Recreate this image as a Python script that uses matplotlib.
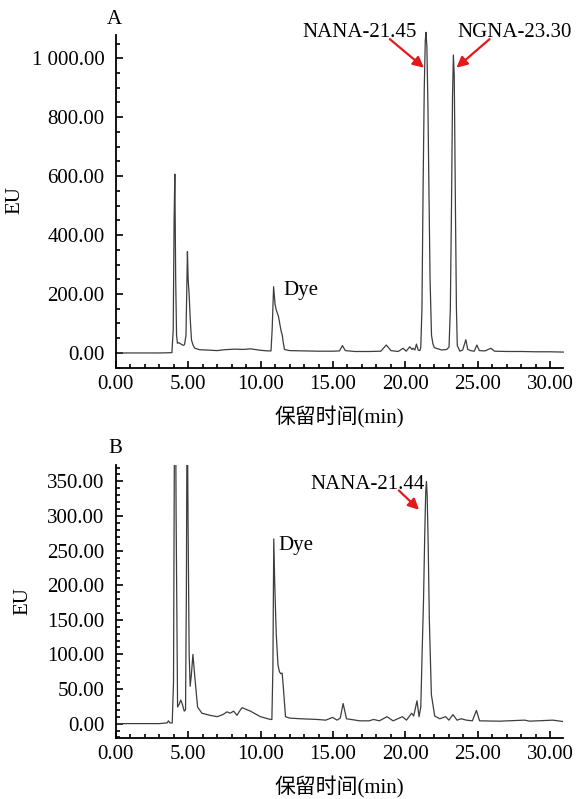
import matplotlib
matplotlib.use("Agg")
import matplotlib.pyplot as plt
from matplotlib.ticker import MultipleLocator, FuncFormatter

# ---- Data ----
time_A = [0.0, 3.0, 3.88, 3.97, 4.03, 4.08, 4.14, 4.2, 4.26, 4.35, 4.45, 4.55, 4.65,
          4.75, 4.85, 4.9, 4.95, 5.0, 5.07, 5.15, 5.23, 5.35, 5.46, 5.8, 6.3, 7.0, 7.5,
          8.2, 8.8, 9.3, 10.0, 10.5, 10.72, 10.8, 10.9, 11.0, 11.08, 11.16, 11.24, 11.34,
          11.43, 11.5, 11.55, 11.65, 12.0, 13.0, 14.0, 15.0, 15.45, 15.65, 15.85, 16.5,
          17.5, 18.3, 18.68, 19.0, 19.5, 19.84, 20.05, 20.3, 20.45, 20.53, 20.65, 20.76,
          20.88, 21.0, 21.06, 21.14, 21.22, 21.3, 21.37, 21.42, 21.48, 21.55, 21.62, 21.7,
          21.8, 21.9, 22.0, 22.5, 22.85, 23.01, 23.1, 23.18, 23.25, 23.31, 23.37, 23.45,
          23.52, 23.58, 23.76, 23.95, 24.17, 24.3, 24.5, 24.75, 24.93, 25.1, 25.5, 25.9,
          26.15, 27.0, 28.0, 29.0, 30.0, 30.9]
eu_A = [0, 0, 1, 80, 450, 607, 250, 60, 33, 35, 32, 29, 26,
        28, 60, 200, 344, 250, 196, 110, 44, 25, 16, 11, 10, 8, 11,
        13, 12, 14, 9, 7, 7, 80, 225, 165, 146, 135, 123, 95,
        72, 60, 40, 12, 8, 7, 6, 6, 7, 25, 8, 5,
        5, 6, 27, 8, 5, 16, 6, 21, 12, 16, 10, 30,
        10, 8, 20, 150, 564, 900, 1060, 1088, 1040, 850, 564, 250,
        60, 30, 18, 10, 12, 20, 150, 500, 870, 1011, 940, 500,
        150, 25, 6, 10, 45, 12, 8, 6, 27, 8, 7, 16,
        6, 5, 5, 4, 4, 3]

time_B = [0.0, 3.0, 3.55, 3.64, 3.75, 3.9, 3.99, 4.05, 4.1, 4.17, 4.27, 4.38, 4.49,
          4.6, 4.73, 4.82, 4.88, 4.93, 4.99, 5.07, 5.14, 5.22, 5.33, 5.45, 5.65, 5.95,
          6.5, 7.0, 7.4, 7.68, 7.9, 8.14, 8.37, 8.55, 8.72, 9.3, 9.99, 10.68, 10.78,
          10.85, 10.91, 10.98, 11.08, 11.2, 11.3, 11.4, 11.49, 11.58, 11.72, 12.0, 12.75,
          13.9, 14.5, 14.97, 15.28, 15.5, 15.7, 15.93, 16.85, 17.5, 17.8, 18.2, 18.73,
          19.15, 19.79, 20.07, 20.43, 20.57, 20.8, 20.94, 21.06, 21.15, 21.25, 21.33,
          21.4, 21.45, 21.5, 21.57, 21.65, 21.79, 22.02, 22.37, 22.78, 23.0, 23.28, 23.56,
          23.86, 24.2, 24.62, 24.9, 25.12, 26.5, 28.23, 28.57, 30.18, 30.87]
eu_B = [0, 0, 1, 4, 1, 1, 60, 400, 600, 300, 24, 28, 34,
        28, 18, 20, 200, 500, 300, 100, 54, 70, 100, 70, 24, 15,
        12, 10, 13, 17, 15, 18, 12, 18, 23, 18, 10, 6, 6,
        80, 267, 200, 130, 85, 75, 72, 73, 50, 10, 8, 7,
        6, 5, 9, 5, 8, 29, 7, 4, 4, 6, 4, 10,
        4, 10, 5, 15, 11, 33, 10, 24, 100, 180, 270,
        335, 350, 330, 260, 150, 42, 11, 7, 10, 5, 13, 5,
        7, 5, 4, 19, 4, 3.5, 5, 3.5, 5, 3]

x_ticks = [0, 5, 10, 15, 20, 25, 30]
y_ticks_A = [0, 200, 400, 600, 800, 1000]
y_ticks_B = [0, 50, 100, 150, 200, 250, 300, 350]

LATIN = "Liberation Serif"
MIXED = ["Liberation Serif", "Noto Sans CJK SC"]
LINE_C = "#3d3d3d"
RED = "#e3191c"
FS = 15

plt.rcParams["font.family"] = MIXED

fig = plt.figure(figsize=(5.76, 7.99), dpi=100)
axA = fig.add_axes([0.2009, 0.5398, 0.7771, 0.4164])
axB = fig.add_axes([0.2009, 0.0767, 0.7771, 0.3413])


def style(ax, yticks, ymajor_minor):
    for s in ("top", "right"):
        ax.spines[s].set_visible(False)
    for s in ("left", "bottom"):
        ax.spines[s].set_linewidth(1.3)
    ax.set_xlim(0, 30.9)
    ax.set_xticks(x_ticks)
    ax.xaxis.set_minor_locator(MultipleLocator(1))
    ax.set_yticks(yticks)
    ax.yaxis.set_minor_locator(MultipleLocator(ymajor_minor))
    ax.xaxis.set_major_formatter(FuncFormatter(lambda v, p: f"{v:.2f}"))
    ax.yaxis.set_major_formatter(
        FuncFormatter(lambda v, p: f"{v:,.2f}".replace(",", " ")))
    ax.tick_params(which="both", direction="in", width=1.2, colors="black")
    ax.tick_params(which="major", length=5)
    ax.tick_params(which="minor", length=3)
    ax.tick_params(axis="x", which="major", pad=5)
    ax.tick_params(axis="y", which="major", pad=8)
    for lab in ax.get_xticklabels() + ax.get_yticklabels():
        lab.set_fontfamily(LATIN)
        lab.set_fontsize(FS)
    ax.set_xlabel("保留时间(min)", family=MIXED, fontsize=FS)
    ax.set_ylabel("EU", family=LATIN, fontsize=FS)


# ---- Panel A ----
axA.plot(time_A, eu_A, color=LINE_C, lw=0.9, clip_on=False)
axA.set_ylim(-50, 1079)
style(axA, y_ticks_A, 50)
axA.xaxis.set_label_coords(0.5, -0.115)
axA.yaxis.set_label_coords(-0.205, 0.504)

axA.text(20.76, 1086, "NANA-21.45", family=LATIN, fontsize=FS,
         ha="right", va="center", clip_on=False)
axA.text(23.6, 1086, "NGNA-23.30", family=LATIN, fontsize=FS,
         ha="left", va="center", clip_on=False)
arrow = dict(arrowstyle="-|>", color=RED, lw=1.6, mutation_scale=16,
             shrinkA=0, shrinkB=0)
axA.annotate("", xy=(21.28, 968), xytext=(18.92, 1065), arrowprops=arrow,
             annotation_clip=False)
axA.annotate("", xy=(23.52, 968), xytext=(25.81, 1065), arrowprops=arrow,
             annotation_clip=False)
axA.text(11.54, 213, "Dye", family=LATIN, fontsize=FS, ha="left", va="center")

# ---- Panel B ----
axB.plot(time_B, eu_B, color=LINE_C, lw=0.9)
axB.set_ylim(-20.4, 373.7)
style(axB, y_ticks_B, 10)
axB.xaxis.set_label_coords(0.5, -0.140)
axB.yaxis.set_label_coords(-0.187, 0.5)

axB.text(21.33, 346, "NANA-21.44", family=LATIN, fontsize=FS,
         ha="right", va="center")
axB.annotate("", xy=(20.94, 309), xytext=(19.54, 337), arrowprops=arrow)
axB.text(11.26, 258, "Dye", family=LATIN, fontsize=FS, ha="left", va="center")

# ---- Panel letters ----
fig.text(0.198, 0.976, "A", family=LATIN, fontsize=FS, ha="center", va="center")
fig.text(0.201, 0.439, "B", family=LATIN, fontsize=FS, ha="center", va="center")

fig.savefig("out.png", dpi=100)
